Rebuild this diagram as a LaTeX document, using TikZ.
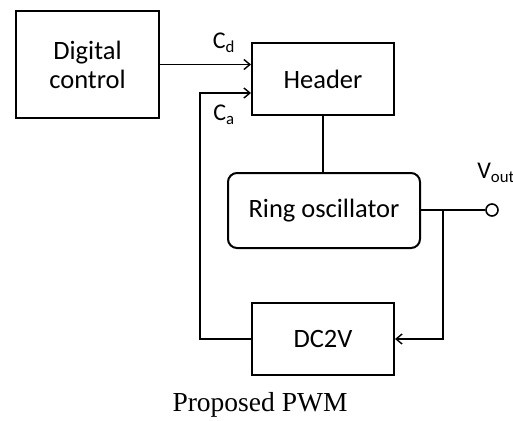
\documentclass[tikz,border=0pt]{standalone}
\usepackage{fontspec}
\setmainfont{Carlito}
\newfontfamily\capfont{Liberation Serif}
\usetikzlibrary{arrows, arrows.meta}

\begin{document}
\begin{tikzpicture}[x=1pt, y=-1pt,
  block/.style={rectangle, draw, line width=2pt, inner sep=0pt, align=center,
    font=\fontsize{26.5}{29}\selectfont},
  wire/.style={line width=1.4pt},
  tip/.style={wire, -{Straight Barb[length=6pt, width=10pt, line width=1.4pt]}}]
\useasboundingbox (0,0) rectangle (513,420);

\node[block, minimum width=143pt, minimum height=107pt] (digital) at (87.5,64.5) {Digital\\control};
  \node[block, minimum width=142pt, minimum height=72pt] (header) at (323,79) {Header};
  \node[block, rounded corners=9pt, minimum width=192pt, minimum height=75pt] (ring) at (324,210.5) {Ring oscillator};
  \node[block, minimum width=142pt, minimum height=72pt] (dctov) at (323,339) {DC2V};
  \node[circle, draw, line width=1.6pt, inner sep=0pt, minimum size=12pt] (vout) at (492,210) {};

  \coordinate (cacorner) at (200,93);
  \coordinate (branch) at (443,210);

  \draw[tip] (digital.east) -- (digital.east -| header.west);
  \draw[tip] (dctov.west) -| (cacorner) -- (cacorner -| header.west);
  \draw[wire] (header.south) -- (header.south |- ring.north);
  \draw[wire] (ring.east |- branch) -- (vout.west);
  \draw[tip] (branch) |- (dctov.east);

  \node[font=\fontsize{24}{26}\selectfont] (cd) at (224,43) {C\textsubscript{d}};
  \node[font=\fontsize{24}{26}\selectfont] (ca) at (224,115) {C\textsubscript{a}};
  \node[font=\fontsize{24}{26}\selectfont] (vlabel) at (496,173) {V\textsubscript{out}};

  \node[font=\capfont\fontsize{27.5}{30}\selectfont] (caption) at (260,405) {Proposed PWM};

\end{tikzpicture}
\end{document}
